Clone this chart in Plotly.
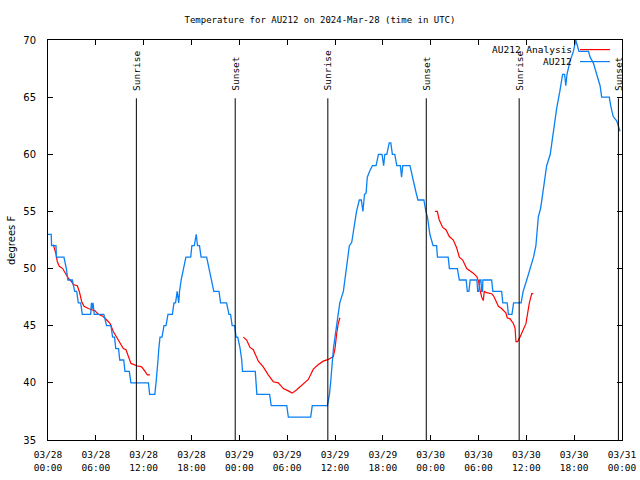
import datetime as dt
import plotly.graph_objects as go

# ---------------- data ----------------
START = dt.datetime(2024, 3, 28, 0, 0)

# AU212 observations: hours since 2024-03-28 00:00 UTC, temperature (F)
obs_hours = [0.0, 0.4, 0.45, 1.0, 1.05, 2.0, 2.3, 2.5, 3.05, 3.35, 3.6, 3.8, 4.1, 4.3, 5.35,
             5.45, 5.55, 5.65, 5.8, 6.0, 7.0, 7.35, 7.9, 8.1, 8.35, 8.5, 8.85, 9.0, 9.5, 9.65,
             10.2, 10.4, 12.6, 12.75, 13.4, 13.55, 13.7, 13.8, 13.9, 14.05, 14.3, 14.55, 14.8,
             15.05, 15.6, 15.8, 16.0, 16.2, 16.4, 16.5, 16.7, 17.0, 17.3, 17.9, 18.05, 18.35,
             18.6, 18.75, 19.0, 19.2, 19.9, 20.2, 20.5, 20.8, 21.45, 21.65, 22.4, 22.7, 22.9,
             23.1, 23.4, 23.6, 23.8, 24.1, 24.3, 24.4, 26.0, 26.2, 27.8, 28.0, 29.95, 30.15,
             32.95, 33.15, 35.05, 35.3, 35.45, 35.6, 35.8, 36.0, 36.2, 36.4, 36.6, 37.05, 37.4,
             37.8, 38.1, 38.4, 38.7, 39.05, 39.3, 39.5, 39.7, 39.9, 40.05, 40.4, 40.7, 41.15,
             41.45, 41.9, 42.1, 42.25, 42.5, 42.8, 43.0, 43.2, 43.5, 43.75, 44.2, 44.35, 44.5,
             45.4, 45.7, 45.9, 46.15, 46.4, 47.15, 47.4, 47.6, 47.9, 48.3, 48.75, 48.85, 50.2,
             50.35, 51.35, 51.6, 52.45, 52.6, 52.8, 52.95, 53.8, 53.9, 54.05, 54.15, 54.3, 54.4,
             54.5, 54.55, 55.65, 55.8, 56.9, 57.05, 57.6, 57.75, 58.2, 58.4, 59.35, 59.6, 60.05,
             60.45, 60.9, 61.2, 61.5, 61.8, 62.15, 62.55, 63.0, 63.4, 63.8, 64.2, 64.55, 64.8,
             64.95, 65.1, 65.5, 65.9, 66.2, 66.4, 66.6, 67.8, 68.0, 68.4, 68.8, 69.25, 69.45,
             70.4, 70.6, 70.9, 71.35, 71.65, 71.75]
obs_temp = [53, 53, 52, 52, 51, 51, 50, 49, 49, 48, 48, 47, 47, 46, 46,
            47, 46.5, 47, 46, 46, 46, 45, 45, 44, 44, 43, 43, 42, 42, 41,
            41, 40, 40, 39, 39, 40, 41, 42, 43, 44, 44, 45, 45,
            46, 46, 47, 47, 48, 47, 48, 49, 50, 51, 51, 52, 52,
            53, 52, 52, 51, 51, 50, 49, 48, 48, 47, 47, 46, 46,
            45, 45, 44, 44, 43, 42, 41, 41, 39, 39, 38, 38, 37,
            37, 38, 38, 39, 40, 41.5, 43, 44, 45, 46, 47, 48, 50,
            52, 52.3, 53.7, 55, 56, 56, 55, 56.5, 56.6, 58, 58.6, 59, 59,
            60, 60, 59, 60, 60, 61, 61, 60, 60, 59, 59, 58, 59,
            59, 58, 57.5, 56.7, 56, 56, 55, 54.5, 53, 52, 52, 51, 51,
            50, 50, 49, 49, 48, 48, 49, 49, 48, 48, 49, 49, 48,
            48, 49, 49, 48, 48, 47, 47, 46, 46, 47, 47, 48, 49,
            50, 51, 52, 54.5, 55.3, 57.2, 59, 60, 62, 64, 65.5, 67, 67,
            66, 67, 68.2, 69, 70, 69.5, 69, 69, 68.5, 68, 67, 66, 65,
            65, 64.2, 63.3, 62.9, 62.1, 62]

# AU212 Analysis: three separate runs (gaps between them)
ana_hours_1 = [0.66, 1.0, 1.17, 1.42, 1.84, 2.13, 2.55, 2.97, 3.17, 3.68, 3.93, 4.23, 4.52, 5.06,
               5.48, 5.9, 6.31, 6.94, 7.36, 7.78, 8.19, 8.62, 9.03, 9.45, 9.78, 10.07, 10.41,
               11.13, 11.75, 12.17, 12.46, 12.79]
ana_temp_1 = [52.1, 51.3, 50.6, 50.2, 50.0, 49.6, 49.15, 48.85, 48.6, 48.5, 48.0, 47.1, 46.7, 46.5,
              46.4, 46.3, 46.0, 45.8, 45.5, 45.2, 44.5, 44.0, 43.6, 43.0, 42.9, 42.3, 41.7,
              41.5, 41.4, 41.0, 40.7, 40.7]
ana_hours_2 = [24.5, 24.92, 25.34, 25.75, 26.38, 27.0, 27.63, 28.26, 28.89, 29.52, 30.14, 30.64,
               31.2, 31.82, 32.65, 33.28, 33.91, 34.53, 35.16, 35.79, 36.0, 36.21, 36.41, 36.62]
ana_temp_2 = [44.0, 43.75, 43.1, 42.9, 41.9, 41.4, 40.7, 40.1, 40.0, 39.5, 39.3, 39.1,
              39.4, 39.8, 40.3, 41.2, 41.6, 41.9, 42.05, 42.3, 43.0, 44.3, 45.2, 45.7]
ana_hours_3 = [48.55, 48.83, 49.08, 49.51, 49.92, 50.34, 50.84, 51.27, 51.59, 52.02, 52.52, 52.94,
               53.35, 53.78, 54.0, 54.2, 54.4, 54.6, 54.72, 55.0, 55.65, 55.9, 56.1, 56.5, 56.9,
               57.45, 57.6, 57.95, 58.37, 58.58, 58.7, 58.9, 59.2, 59.62, 59.96, 60.12, 60.38,
               60.68, 60.88]
ana_temp_3 = [55.0, 55.0, 54.25, 53.6, 53.4, 52.8, 52.5, 51.8, 51.0, 50.75, 50.0, 49.8,
              49.6, 49.3, 48.9, 48.1, 47.5, 47.2, 48.0, 47.9, 47.8, 47.6, 47.25, 46.7, 46.5,
              46.1, 45.7, 45.6, 45.2, 44.8, 43.6, 43.6, 44.0, 44.6, 45.2, 45.9, 47.0,
              47.8, 47.8]

# Sun events (UTC)
sun_labels = ["Sunrise", "Sunset", "Sunrise", "Sunset", "Sunrise", "Sunset"]
sun_times = ["2024-03-28 11:05", "2024-03-28 23:29", "2024-03-29 11:06",
             "2024-03-29 23:27", "2024-03-30 11:06", "2024-03-30 23:33"]

y_ticks = [35, 40, 45, 50, 55, 60, 65, 70]
x_start, x_end = "2024-03-28 00:00", "2024-03-31 00:00"

series_names = ["AU212 Analysis", "AU212"]
series_colors = ["#ff0000", "#0a80f5"]

# ---------------- build ----------------
def to_time(hours):
    return [START + dt.timedelta(hours=h) for h in hours]

ana_x, ana_y = [], []
for hs, ts in [(ana_hours_1, ana_temp_1), (ana_hours_2, ana_temp_2), (ana_hours_3, ana_temp_3)]:
    ana_x += to_time(hs) + [None]
    ana_y += ts + [None]

MONO = "DejaVu Sans Mono"
SANS = "DejaVu Sans"

fig = go.Figure()
fig.add_trace(go.Scatter(x=ana_x, y=ana_y, mode="lines", name=series_names[0],
                         line=dict(color=series_colors[0], width=1.2), connectgaps=False))
fig.add_trace(go.Scatter(x=to_time(obs_hours), y=obs_temp, mode="lines", name=series_names[1],
                         line=dict(color=series_colors[1], width=1.3)))

shapes = []
annotations = []
for lab, t in zip(sun_labels, sun_times):
    shapes.append(dict(type="line", xref="x", yref="y", x0=t, x1=t, y0=35, y1=64.9,
                       line=dict(color="black", width=1)))
    annotations.append(dict(x=t, y=65.4, xref="x", yref="y", text=lab, showarrow=False,
                            textangle=-90, xanchor="center", yanchor="bottom",
                            font=dict(family=MONO, size=9.5, color="black")))

# manual key (text right-aligned, sample line to the right)
key_y = [0.976, 0.946]
for name, color, ky in zip(series_names, series_colors, key_y):
    annotations.append(dict(x=0.917, y=ky, xref="paper", yref="paper", text=name,
                            showarrow=False, xanchor="right", yanchor="middle",
                            font=dict(family=MONO, size=9.5, color="black")))
    shapes.append(dict(type="line", xref="paper", yref="paper", x0=0.9268, x1=0.979,
                       y0=ky, y1=ky, line=dict(color=color, width=1.2)))

annotations.append(dict(x=-0.0645, y=0.5, xref="paper", yref="paper", text="degrees F",
                        showarrow=False, textangle=-90, xanchor="center", yanchor="middle",
                        font=dict(family=SANS, size=10, color="black")))

fig.update_layout(
    width=640, height=480,
    margin=dict(l=48, r=18, t=40, b=40, autoexpand=False),
    paper_bgcolor="white", plot_bgcolor="white",
    showlegend=False,
    title=dict(text="Temperature for AU212 on 2024-Mar-28 (time in UTC)",
               x=0.5, xanchor="center", y=1 - 20 / 480, yanchor="middle",
               font=dict(family=MONO, size=9, color="black")),
    shapes=shapes, annotations=annotations,
)
fig.update_xaxes(type="date", range=[x_start, x_end], tick0=x_start, dtick=6 * 3600 * 1000,
                 tickformat="%m/%d<br>%H:%M", showgrid=False, zeroline=False, automargin=False,
                 showline=True, linecolor="black", linewidth=1, mirror="ticks",
                 ticks="inside", ticklen=5, tickcolor="black", ticklabelstandoff=6,
                 tickfont=dict(family=MONO, size=9.5, color="black"))
fig.update_yaxes(range=[35, 70], tickvals=y_ticks, showgrid=False, zeroline=False, automargin=False,
                 showline=True, linecolor="black", linewidth=1, mirror="ticks",
                 ticks="inside", ticklen=5, tickcolor="black", ticklabelstandoff=9,
                 tickfont=dict(family=SANS, size=10, color="black"))

fig.write_html("out.html", config={"displayModeBar": False},
               post_script="document.body.style.margin='0';document.body.style.overflow='hidden';")
